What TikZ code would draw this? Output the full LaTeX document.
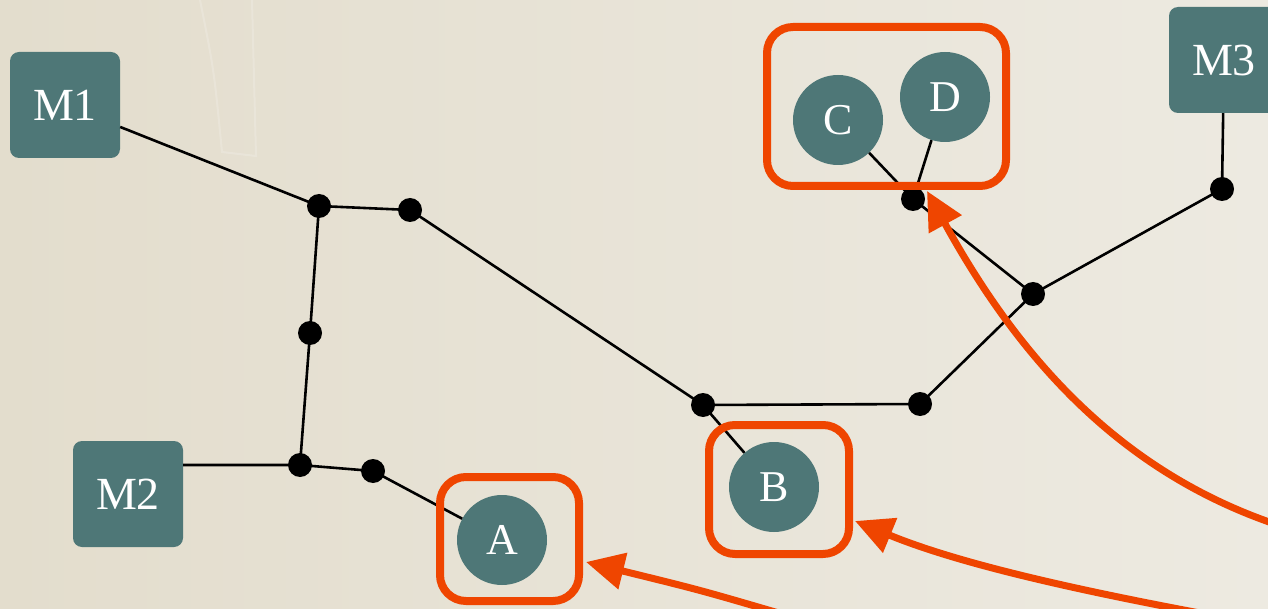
\documentclass[tikz,border=0pt]{standalone}
\usepackage{fontspec}
\setmainfont{Liberation Serif}
\usetikzlibrary{arrows.meta}
\definecolor{teal1}{HTML}{4E7777}
\definecolor{orng}{HTML}{EF4500}
\definecolor{bgl}{HTML}{E3DDCD}
\definecolor{bgr}{HTML}{EDEAE1}
\tikzset{
  mbox/.style={fill=teal1, rounded corners=9pt, minimum width=110pt, minimum height=106pt, inner sep=0pt, text=white, font=\fontsize{46}{50}\selectfont},
  cnode/.style={circle, fill=teal1, minimum size=90pt, inner sep=0pt, text=white, font=\fontsize{44}{48}\selectfont},
  dot/.style={circle, fill=black, minimum size=24pt, inner sep=0pt},
  wire/.style={black, line width=2.6pt},
  hbox/.style={draw=orng, line width=8pt, rounded corners=26pt},
  harrow/.style={orng, line width=7pt, -{Triangle[length=38pt,width=36pt]}},
}
\begin{document}
\begin{tikzpicture}[x=1pt,y=-1pt]
\useasboundingbox (0,0) rectangle (1268,609);
\clip (0,0) rectangle (1268,609);
\fill[left color=bgl, right color=bgr] (0,0) rectangle (1268,609);
\draw[white, opacity=0.18, line width=2pt] (200,0) .. controls (214,70) .. (222,152) -- (256,156) -- (252,0);

% nodes
\node[mbox] (M1) at (65,105) {M1};
\node[mbox] (M2) at (128,494) {M2};
\node[mbox] (M3) at (1224,60) {M3};

\node[cnode] (A) at (502,540) {A};
\node[cnode] (B) at (774,487) {B};
\node[cnode] (C) at (838,120) {C};
\node[cnode] (D) at (945,97) {D};

\node[dot] (d1) at (319,206) {};
\node[dot] (d2) at (410,210) {};
\node[dot] (d3) at (310,333) {};
\node[dot] (d4) at (300,465) {};
\node[dot] (d5) at (373,471) {};
\node[dot] (d6) at (703,405) {};
\node[dot] (d7) at (920,404) {};
\node[dot] (d8) at (1033,294) {};
\node[dot] (d9) at (913,199) {};
\node[dot] (d10) at (1222,189) {};

% wires
\draw[wire] (M1) -- (d1.center);
\draw[wire] (d1.center) -- (d2.center);
\draw[wire] (d1.center) -- (d3.center) -- (d4.center);
\draw[wire] (d4 -| M2.east) -- (d4.center) -- (d5.center);
\draw[wire] (d5.center) -- (A);
\draw[wire] (d2.center) -- (d6.center);
\draw[wire] (d6.center) -- (B);
\draw[wire] (d6.center) -- (d7.center) -- (d8.center);
\draw[wire] (d8.center) -- (d9.center);
\draw[wire] (d9.center) -- (C);
\draw[wire] (d9.center) -- (D);
\draw[wire] (d8.center) -- (d10.center);
\draw[wire] (d10.center) -- (M3);

% highlight boxes
\draw[hbox] (440,477) rectangle (579,601);
\draw[hbox] (709,425) rectangle (849,554);
\draw[hbox] (767,27) rectangle (1006,186);

% arrows
\coordinate (aA) at (782,614);
\coordinate (aB) at (1205,614);
\coordinate (aC) at (1272,523);
\coordinate (tA) at (586,562);
\coordinate (tB) at (855,521);
\coordinate (tC) at (927,191);
\draw[harrow] (aA) .. controls (700,590) .. (tA);
\draw[harrow] (aB) .. controls (1050,585) and (950,560) .. (tB);
\draw[harrow] (aC) .. controls (1120,470) and (1020,360) .. (tC);
\end{tikzpicture}
\end{document}
